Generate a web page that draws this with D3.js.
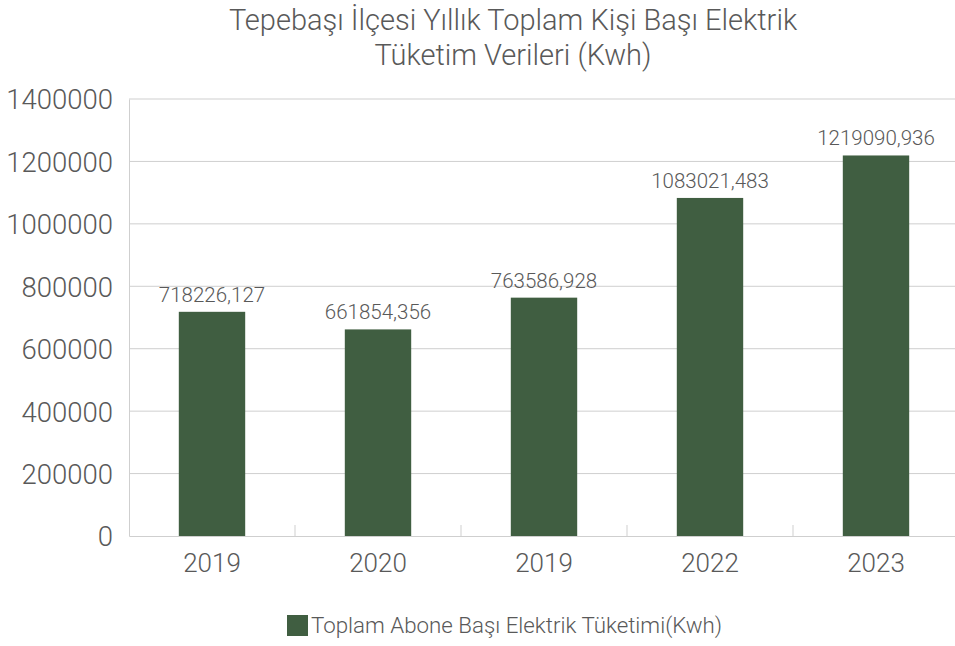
<!DOCTYPE html>
<html>
<head>
<meta charset="utf-8">
<script src="https://cdn.jsdelivr.net/npm/d3@7"></script>
<style>
  body { margin: 0; background: #fff; }
  text { font-family: Roboto, "Noto Sans", sans-serif; fill: #595959; font-weight: 300; }
</style>
</head>
<body>
<div class="graph-container"></div>
<script>
var years = ['2019', '2020', '2019', '2022', '2023'];
var values = [718226.127, 661854.356, 763586.928, 1083021.483, 1219090.936];
var yTicks = [0, 200000, 400000, 600000, 800000, 1000000, 1200000, 1400000];
var titleLines = ['Tepebaşı İlçesi Yıllık Toplam Kişi Başı Elektrik', 'Tüketim Verileri (Kwh)'];
var legendLabel = 'Toplam Abone Başı Elektrik Tüketimi(Kwh)';

var svgWidth = 955;
var svgHeight = 646;
var plotLeft = 129;
var plotRight = 959;
var plotTop = 99;
var plotBottom = 536;
var barColor = '#405e41';
var gridColor = '#cfcfcf';

var svg = d3.select('.graph-container').append('svg')
  .attr('width', svgWidth)
  .attr('height', svgHeight);

// x scale uses index since 2019 appears twice
var xScale = d3.scaleBand()
  .domain(d3.range(years.length))
  .range([plotLeft, plotRight])
  .paddingInner(0.6)
  .paddingOuter(0.3);

var yScale = d3.scaleLinear()
  .domain([0, 1400000])
  .range([plotBottom, plotTop]);

// gridlines
svg.append('g')
  .selectAll('line')
  .data(yTicks.slice(1))
  .enter()
  .append('line')
  .attr('x1', plotLeft)
  .attr('x2', plotRight)
  .attr('y1', function(d) { return yScale(d); })
  .attr('y2', function(d) { return yScale(d); })
  .attr('stroke', gridColor)
  .attr('stroke-width', 1);

// bars
svg.selectAll('rect.bar')
  .data(values)
  .enter()
  .append('rect')
  .attr('class', 'bar')
  .attr('x', function(d, i) { return xScale(i); })
  .attr('y', function(d) { return yScale(d); })
  .attr('width', xScale.bandwidth())
  .attr('height', function(d) { return plotBottom - yScale(d); })
  .attr('fill', barColor);

// value labels
svg.selectAll('text.value')
  .data(values)
  .enter()
  .append('text')
  .attr('class', 'value')
  .attr('x', function(d, i) { return xScale(i) + xScale.bandwidth() / 2; })
  .attr('y', function(d) { return yScale(d) - 10; })
  .style('text-anchor', 'middle')
  .style('font-size', '20.5px')
  .text(function(d) { return d.toFixed(3).replace('.', ','); });

// y axis
var yAxis = d3.axisLeft(yScale).tickValues(yTicks).tickSize(0).tickPadding(16)
  .tickFormat(d3.format('d'));
var gy = svg.append('g')
  .attr('transform', 'translate(' + plotLeft + ',0)')
  .call(yAxis);
gy.select('.domain').attr('stroke', gridColor);
gy.selectAll('text')
  .style('font-size', '27.5px')
  .style('font-family', 'Roboto, sans-serif')
  .style('font-weight', 300)
  .attr('fill', '#595959')
  .attr('dy', '0.36em');

// x axis
var xAxis = d3.axisBottom(xScale).tickSize(0).tickPadding(14)
  .tickFormat(function(i) { return years[i]; });
var gx = svg.append('g')
  .attr('transform', 'translate(0,' + plotBottom + ')')
  .call(xAxis);
gx.select('.domain').attr('stroke', gridColor);
gx.selectAll('text')
  .style('font-size', '26px')
  .style('font-family', 'Roboto, sans-serif')
  .style('font-weight', 300)
  .attr('fill', '#595959')
  .attr('dy', '0.85em');

// inside tick marks between categories
var step = xScale.step();
svg.append('g')
  .selectAll('line')
  .data(d3.range(1, years.length))
  .enter()
  .append('line')
  .attr('x1', function(i) { return plotLeft + i * step; })
  .attr('x2', function(i) { return plotLeft + i * step; })
  .attr('y1', plotBottom)
  .attr('y2', plotBottom - 11)
  .attr('stroke', gridColor);

// title
svg.append('g')
  .selectAll('text')
  .data(titleLines)
  .enter()
  .append('text')
  .attr('x', 513)
  .attr('y', function(d, i) { return 30 + i * 35; })
  .style('text-anchor', 'middle')
  .style('font-size', '29px')
  .text(function(d) { return d; });

// legend
var legend = svg.append('g').attr('transform', 'translate(287,615)');
legend.append('rect')
  .attr('width', 21)
  .attr('height', 21)
  .attr('fill', barColor);
legend.append('text')
  .attr('x', 24)
  .attr('y', 18)
  .style('font-size', '22.3px')
  .text(legendLabel);
</script>
</body>
</html>
